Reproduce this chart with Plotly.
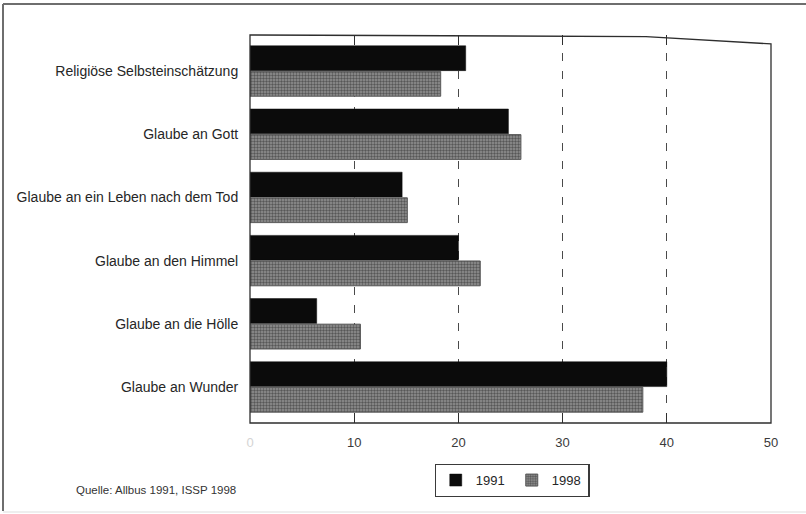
import plotly.graph_objects as go

# Survey items (top to bottom) and shares in percent
categories = [
    "Religiöse Selbsteinschätzung",
    "Glaube an Gott",
    "Glaube an ein Leben nach dem Tod",
    "Glaube an den Himmel",
    "Glaube an die Hölle",
    "Glaube an Wunder",
]
values_1991 = [20.7, 24.8, 14.6, 20.0, 6.4, 40.0]
values_1998 = [18.3, 26.0, 15.1, 22.1, 10.6, 37.7]
series_names = ["1991", "1998"]

x_tickvals = [0, 10, 20, 30, 40, 50]
x_ticktext = ['<span style="color:#d4d4d4">0</span>', "10", "20", "30", "40", "50"]
source_text = "Quelle: Allbus 1991, ISSP 1998"

FONT = "Liberation Sans Narrow, Arial Narrow, Liberation Sans, Arial, sans-serif"

W, H = 806, 514
L, R, T, B = 250, 35, 35, 91

fig = go.Figure()
fig.add_trace(go.Bar(
    y=categories, x=values_1991, name=series_names[0], orientation="h",
    marker=dict(color="#0b0b0b", line=dict(color="#0b0b0b", width=0.5)),
))
fig.add_trace(go.Bar(
    y=categories, x=values_1998, name=series_names[1], orientation="h",
    marker=dict(
        color="#6e6e6e",
        line=dict(color="#5a5a5a", width=1),
        pattern=dict(shape=".", fgcolor="#1c1c1c", bgcolor="#929292",
                     size=3, solidity=0.5, fillmode="overlay"),
    ),
))

# frame of the plotting area (top edge dips slightly toward the right)
frame_path = "M 0,1 L 0.76,0.996 L 1,0.977 L 1,0 L 0,0 Z"
shapes = [
    dict(type="path", xref="paper", yref="paper", path=frame_path,
         line=dict(color="#2e2e2e", width=1.3), fillcolor="rgba(0,0,0,0)", layer="above"),
    # outer border of the figure
    dict(type="line", xref="paper", yref="paper",
         x0=(3 - L) / (W - L - R), x1=(806 - L) / (W - L - R),
         y0=(H - B - 4) / (H - T - B), y1=(H - B - 4) / (H - T - B),
         line=dict(color="#6e6e6e", width=2)),
    dict(type="line", xref="paper", yref="paper",
         x0=(3 - L) / (W - L - R), x1=(3 - L) / (W - L - R),
         y0=(H - B - 4) / (H - T - B), y1=(H - B - 511) / (H - T - B),
         line=dict(color="#6e6e6e", width=2)),
    dict(type="line", xref="paper", yref="paper",
         x0=(3 - L) / (W - L - R), x1=(806 - L) / (W - L - R),
         y0=(H - B - 512) / (H - T - B), y1=(H - B - 512) / (H - T - B),
         line=dict(color="#dddddd", width=1)),
]

fig.update_layout(
    width=W, height=H,
    margin=dict(l=L, r=R, t=T, b=B, pad=0),
    paper_bgcolor="white", plot_bgcolor="white",
    barmode="group", bargap=0.19, bargroupgap=0.03,
    font=dict(family=FONT, size=14, color="#262626"),
    showlegend=True,
    legend=dict(
        orientation="h", x=0.503, xanchor="center", y=-0.148, yanchor="middle",
        bordercolor="#3a3a3a", borderwidth=1.2, bgcolor="white",
        font=dict(family=FONT, size=13, color="#262626"),
        traceorder="normal", itemwidth=30,
        entrywidth=31, entrywidthmode="pixels",
    ),
    xaxis=dict(
        range=[0, 50], tickvals=x_tickvals, ticktext=x_ticktext,
        showgrid=True, gridcolor="#4a4a4a", gridwidth=1.4, griddash="8px,10px",
        zeroline=False, showline=False,
        ticks="inside", ticklen=10, tickwidth=1.3, tickcolor="#2e2e2e", mirror="ticks",
        tickfont=dict(family=FONT, size=13, color="#3a3a3a"),
        ticklabelstandoff=10,
    ),
    yaxis=dict(
        categoryorder="array", categoryarray=categories,
        range=[5.57, -0.57],
        showgrid=False, zeroline=False, showline=False,
        ticks="outside", ticklen=8, tickcolor="rgba(0,0,0,0)",
        tickfont=dict(family=FONT, size=14, color="#262626"),
    ),
    shapes=shapes,
    annotations=[
        dict(text=source_text, xref="paper", yref="paper",
             x=(238 - L) / (W - L - R), y=(H - B - 490) / (H - T - B),
             xanchor="right", yanchor="middle", showarrow=False,
             font=dict(family=FONT, size=11.5, color="#333333")),
    ],
)

fig.write_html("out.html")
